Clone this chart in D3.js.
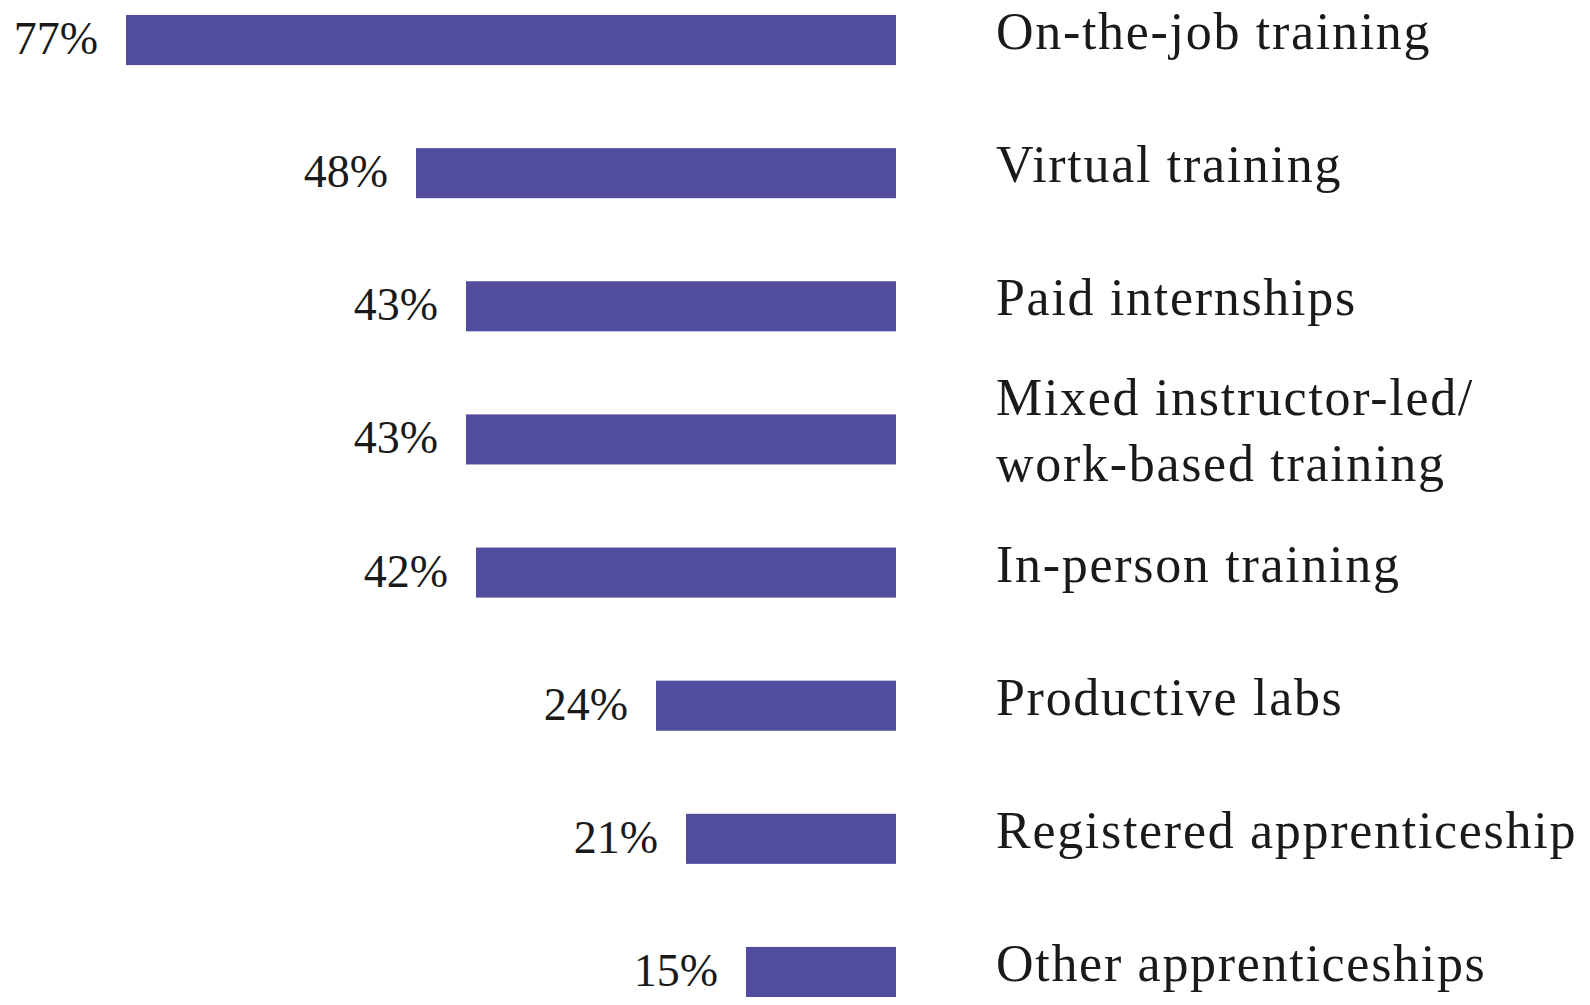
<!DOCTYPE html>
<html>
<head>
<meta charset="utf-8">
<script src="https://cdn.jsdelivr.net/npm/d3@7"></script>
<style>
  html, body { margin: 0; padding: 0; background: #fff; }
  text { font-family: "Liberation Serif", "DejaVu Serif", serif; fill: #1a1a1a; }
</style>
</head>
<body>
<div id="chart"></div>
<script>
const categories = [
    ["On-the-job training"],
    ["Virtual training"],
    ["Paid internships"],
    ["Mixed instructor-led/", "work-based training"],
    ["In-person training"],
    ["Productive labs"],
    ["Registered apprenticeship"],
    ["Other apprenticeships"]
];
const values = [77, 48, 43, 43, 42, 24, 21, 15];

const width = 1590;
const height = 1005;
const barRight = 896;

const svg = d3.select("#chart").append("svg").attr("width", width).attr("height", height);

const x = d3.scaleLinear().domain([0, 100]).range([0, 1000]);
const y = d3.scaleBand().domain(d3.range(values.length)).range([15, 997]).paddingInner(0.624).paddingOuter(0);

const color = "#514c9d";

const rows = svg.selectAll(".row")
    .data(values)
    .enter().append("g")
    .attr("class", "row");

rows.append("rect")
    .attr("x", d => barRight - x(d))
    .attr("y", (d, i) => y(i))
    .attr("width", d => x(d))
    .attr("height", y.bandwidth())
    .attr("fill", color);

rows.append("text")
    .attr("x", d => barRight - x(d) - 28)
    .attr("y", (d, i) => y(i) + y.bandwidth() / 2 + 14)
    .attr("text-anchor", "end")
    .style("font-size", "46px")
    .text(d => d + "%");

const lineGap = 66;
rows.append("text")
    .attr("x", 996)
    .attr("y", (d, i) => y(i) + y.bandwidth() / 2 + 9 - (categories[i].length - 1) * lineGap / 2)
    .style("font-size", "52px")
    .style("letter-spacing", "1.7px")
    .selectAll("tspan")
    .data((d, i) => categories[i])
    .enter().append("tspan")
    .attr("x", 996)
    .attr("dy", (d, j) => j === 0 ? 0 : lineGap)
    .text(d => d);
</script>
</body>
</html>
